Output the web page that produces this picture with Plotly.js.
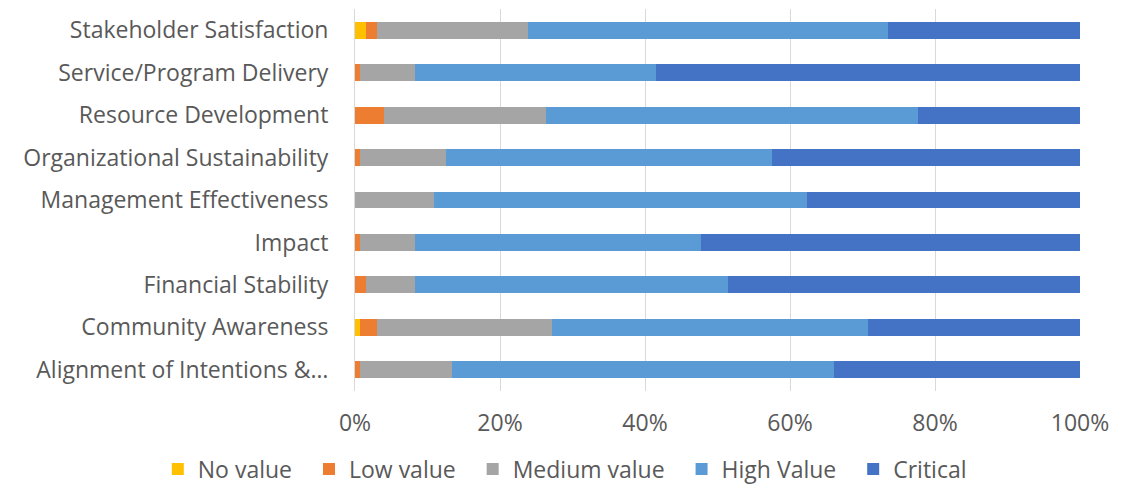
<!DOCTYPE html>
<html>
<head>
<meta charset="utf-8">
<script src="https://cdn.plot.ly/plotly-3.0.1.min.js"></script>
<style>
  html, body { margin: 0; padding: 0; background: #ffffff; }
  #chart { width: 1130px; height: 485px; }
</style>
</head>
<body>
<div id="chart"></div>
<script>
// Rating categories, listed top to bottom
const categories = [
  "Stakeholder Satisfaction",
  "Service/Program Delivery",
  "Resource Development",
  "Organizational Sustainability",
  "Management Effectiveness",
  "Impact",
  "Financial Stability",
  "Community Awareness",
  "Alignment of Intentions &…"
];

// Share of responses (%) per rating level
const noValue     = [1.5, 0,   0,    0,    0,    0,    0,    0.7,  0];
const lowValue    = [1.6, 0.7, 4.0,  0.7,  0,    0.7,  1.5,  2.4,  0.7];
const mediumValue = [20.7, 7.6, 22.3, 11.8, 10.9, 7.6,  6.8,  24.1, 12.7];
const highValue   = [49.7, 33.2, 51.4, 45.0, 51.4, 39.4, 43.2, 43.6, 52.6];
const critical    = [26.5, 58.5, 22.3, 42.5, 37.7, 52.3, 48.5, 29.2, 34.0];

const seriesNames  = ["No value", "Low value", "Medium value", "High Value", "Critical"];
const seriesValues = [noValue, lowValue, mediumValue, highValue, critical];
const seriesColors = ["#FFC000", "#ED7D31", "#A5A5A5", "#5B9BD5", "#4472C4"];

// trailing non-breaking spaces widen the gap between legend entries
const legendPad = "\u00A0\u00A0";

const traces = seriesNames.map((name, i) => ({
  type: "bar",
  orientation: "h",
  name: name + legendPad,
  y: categories,
  x: seriesValues[i],
  marker: { color: seriesColors[i], line: { width: 0 } },
  hoverinfo: "name+x"
}));

const textFont = { family: "'Open Sans', 'Noto Sans', sans-serif", size: 23, color: "#595959" };

const layout = {
  width: 1130,
  height: 485,
  barmode: "stack",
  barnorm: "percent",
  bargap: 0.6,
  paper_bgcolor: "#ffffff",
  plot_bgcolor: "#ffffff",
  margin: { l: 355, r: 50, t: 9, b: 94, autoexpand: false },
  font: textFont,
  xaxis: {
    range: [0, 100],
    tickvals: [0, 20, 40, 60, 80, 100],
    ticktext: ["0%", "20%", "40%", "60%", "80%", "100%"],
    showgrid: true,
    gridcolor: "#D9D9D9",
    gridwidth: 1,
    zeroline: false,
    showline: false,
    ticks: "outside",
    ticklen: 11,
    tickcolor: "rgba(0,0,0,0)",
    tickfont: textFont,
    fixedrange: true
  },
  yaxis: {
    type: "category",
    autorange: "reversed",
    showgrid: false,
    zeroline: false,
    showline: true,
    linecolor: "#D9D9D9",
    linewidth: 1,
    ticks: "outside",
    ticklen: 21,
    tickcolor: "rgba(0,0,0,0)",
    tickfont: textFont,
    fixedrange: true
  },
  showlegend: true,
  legend: {
    orientation: "h",
    traceorder: "normal",
    xref: "paper",
    yref: "paper",
    x: -0.272,
    xanchor: "left",
    y: -0.204,
    yanchor: "middle",
    font: textFont,
    itemwidth: 30
  }
};

Plotly.newPlot("chart", traces, layout, { displayModeBar: false, staticPlot: true });
</script>
</body>
</html>
